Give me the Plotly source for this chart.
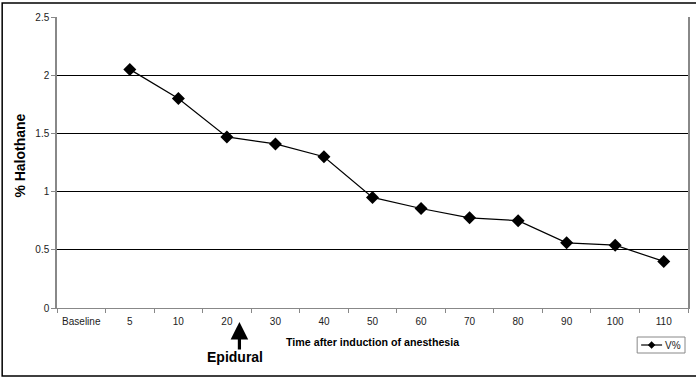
import plotly.graph_objects as go

categories = ["Baseline", "5", "10", "20", "30", "40", "50", "60", "70", "80", "90", "100", "110"]
halothane = [None, 2.05, 1.80, 1.47, 1.41, 1.30, 0.95, 0.855, 0.775, 0.75, 0.56, 0.54, 0.40]
y_ticks = [0, 0.5, 1, 1.5, 2, 2.5]
y_tick_labels = ["0", "0.5", "1", "1.5", "2", "2.5"]
series_name = "V%"

W, H = 696, 379
L, R, T, B = 57, 6, 17, 71
pw, ph = W - L - R, H - T - B

def px(x):
    return (x - L) / pw

def py(y):
    return (H - B - y) / ph

FONT = "Liberation Sans, Arial, sans-serif"

fig = go.Figure()
fig.add_trace(go.Scatter(
    x=categories, y=halothane, mode="lines+markers", name=series_name,
    line=dict(color="black", width=1.2),
    marker=dict(symbol="diamond", size=10, color="black"),
    connectgaps=False, showlegend=False,
))

fig.update_layout(
    width=W, height=H,
    margin=dict(l=L, r=R, t=T, b=B),
    paper_bgcolor="white", plot_bgcolor="white",
    font=dict(family=FONT, size=10, color="#222"),
    showlegend=False,
    xaxis=dict(
        type="category", categoryorder="array", categoryarray=categories,
        showgrid=False, showline=True, linecolor="#888", linewidth=1,
        ticks="outside", tickson="boundaries", ticklen=4, tickcolor="#888",
        tickfont=dict(size=10, color="#222"), tickangle=0, ticklabelstandoff=4,
        range=[-0.5, len(categories) - 0.5],
        zeroline=False,
    ),
    yaxis=dict(
        range=[0, 2.5], tickvals=y_ticks, ticktext=y_tick_labels,
        showgrid=True, gridcolor="black", gridwidth=1.2,
        showline=True, linecolor="#888", linewidth=1.5, mirror=True,
        ticks="outside", ticklen=4, tickcolor="#888",
        tickfont=dict(size=10, color="#222"),
        zeroline=False,
    ),
)

# Axis titles placed as in the reference
fig.add_annotation(x=px(374), y=py(342), xref="paper", yref="paper",
                   text="<b>Time after induction of anesthesia</b>", showarrow=False,
                   font=dict(size=10.7, color="black"), xanchor="center", yanchor="middle")
fig.add_annotation(x=px(19), y=py(155.5), xref="paper", yref="paper",
                   text="<b>% Halothane</b>", showarrow=False, textangle=-90,
                   font=dict(size=14, color="black"), xanchor="center", yanchor="middle")

# Outer chart border
fig.add_shape(type="rect", xref="paper", yref="paper",
              x0=px(2), x1=px(699), y0=py(376), y1=py(3),
              line=dict(color="black", width=1.5), fillcolor="rgba(0,0,0,0)")

# Epidural arrow and label
fig.add_annotation(x=px(240), y=py(322), xref="paper", yref="paper", text="",
                   showarrow=True, arrowhead=2, arrowsize=1.1, arrowwidth=3.2,
                   arrowcolor="black", ax=0, ay=29)
fig.add_annotation(x=px(235.5), y=py(357), xref="paper", yref="paper",
                   text="<b>Epidural</b>", showarrow=False,
                   font=dict(size=14, color="black"), xanchor="center", yanchor="middle")

# Legend box (compact, like the reference)
fig.add_shape(type="rect", xref="paper", yref="paper",
              x0=px(639), x1=px(687), y0=py(353), y1=py(337),
              line=dict(color="#888", width=1), fillcolor="white")
fig.add_shape(type="line", xref="paper", yref="paper",
              x0=px(643), x1=px(664), y0=py(345), y1=py(345),
              line=dict(color="black", width=1.2))
d = 3.5
fig.add_shape(type="path", xref="paper", yref="paper",
              path=f"M {px(653.5)} {py(345 - d)} L {px(653.5 + d)} {py(345)} L {px(653.5)} {py(345 + d)} L {px(653.5 - d)} {py(345)} Z",
              line=dict(color="black", width=0.5), fillcolor="black")
fig.add_annotation(x=px(665), y=py(345), xref="paper", yref="paper",
                   text=series_name, showarrow=False, xanchor="left", yanchor="middle",
                   font=dict(size=10, color="#222"))

fig.write_html("out.html")
